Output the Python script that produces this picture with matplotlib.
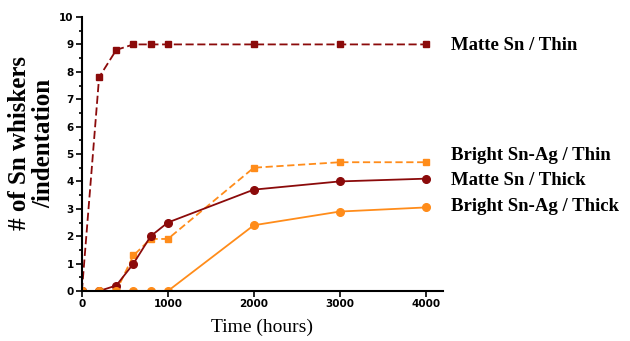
import numpy as np
import matplotlib.pyplot as plt
from matplotlib.ticker import MultipleLocator

# data
hours = [0, 200, 400, 600, 800, 1000, 2000, 3000, 4000]
matte_thin = [0, 7.8, 8.8, 9.0, 9.0, 9.0, 9.0, 9.0, 9.0]
bright_thin = [0, 0, 0, 1.3, 1.9, 1.9, 4.5, 4.7, 4.7]
matte_thick = [0, 0, 0.2, 1.0, 2.0, 2.5, 3.7, 4.0, 4.1]
bright_thick = [0, 0, 0, 0, 0, 0, 2.4, 2.9, 3.05]
labels = ['Matte Sn / Thin', 'Bright Sn-Ag / Thin', 'Matte Sn / Thick', 'Bright Sn-Ag / Thick']
label_pos = [8.95, 4.95, 4.05, 3.1]

dark = '#8b0a0a'
orange = '#ff8c1a'

fig = plt.figure(figsize=(6.3, 3.41), dpi=100)
ax = fig.add_axes([0.130, 0.1466, 0.573, 0.8035])

ax.plot(hours, matte_thin, color=dark, ls='--', marker='s', ms=5, lw=1.3, dashes=(4.5, 2))
ax.plot(hours, bright_thin, color=orange, ls='--', marker='s', ms=5, lw=1.3, dashes=(4, 2))
ax.plot(hours, matte_thick, color=dark, ls='-', marker='o', ms=5.5, lw=1.3)
ax.plot(hours, bright_thick, color=orange, ls='-', marker='o', ms=5.5, lw=1.3)

ax.set_xlim(0, 4200)
ax.set_ylim(0, 10)
ax.set_xticks([0, 1000, 2000, 3000, 4000])
ax.yaxis.set_major_locator(MultipleLocator(1))
ax.yaxis.set_minor_locator(MultipleLocator(0.5))
ax.tick_params(axis='both', which='major', length=4, width=1.2, labelsize=7.5, pad=2)
ax.tick_params(axis='y', which='minor', length=2.5, width=1.2)
for t in ax.get_xticklabels() + ax.get_yticklabels():
    t.set_fontweight('bold')

for s in ['top', 'right']:
    ax.spines[s].set_visible(False)
for s in ['left', 'bottom']:
    ax.spines[s].set_linewidth(1.5)

ax.set_xlabel('Time (hours)', family='Liberation Serif', fontsize=14)
ax.xaxis.set_label_coords(0.5, -0.1)
ax.set_ylabel('# of Sn whiskers\n/indentation', family='Liberation Serif', fontsize=18,
              fontweight='bold', linespacing=1.05)
ax.yaxis.set_label_coords(-0.075, 0.54)

# labels at right side
for lab, yv in zip(labels, label_pos):
    ax.text(4290, yv, lab, family='Liberation Serif', fontweight='bold', fontsize=13.5,
            va='center', ha='left', clip_on=False)

fig.savefig('out.png', dpi=100)
